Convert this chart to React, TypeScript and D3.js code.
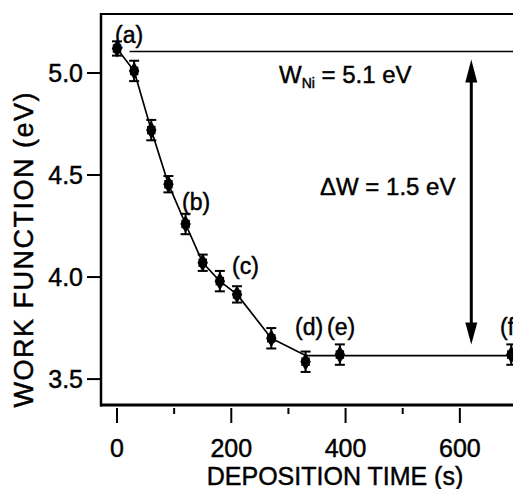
import React, { useEffect, useRef } from "react";
import * as d3 from "d3";

// measured points (deposition time in s, work function in eV)
const times = [0, 30, 60, 90, 120, 150, 180, 210, 270, 330, 390, 690];
const workFn = [5.12, 5.01, 4.72, 4.455, 4.26, 4.07, 3.98, 3.915, 3.7, 3.585, 3.62, 3.62];
const errs = [0.035, 0.05, 0.05, 0.04, 0.05, 0.04, 0.05, 0.04, 0.05, 0.05, 0.05, 0.05];
const labels = ["(a)", "", "", "", "(b)", "", "", "(c)", "", "(d)", "(e)", "(f)"];

// guide line through the points
const fitTimes = [0, 30, 60, 90, 120, 150, 180, 210, 270, 330, 700];
const fitValues = [5.12, 5.01, 4.72, 4.455, 4.26, 4.07, 3.98, 3.915, 3.7, 3.615, 3.615];

const xTicks = [0, 200, 400, 600];
const xMinorTicks = [100, 300, 500];
const yTicks = [3.5, 4.0, 4.5, 5.0];

const wNi = 5.1;
const wPlateau = 3.62;
const arrowTime = 620;

const FONT = "'Liberation Sans', Arial, sans-serif";

export default function App() {
  const ref = useRef<SVGSVGElement>(null);

  useEffect(() => {
    const svg = d3.select(ref.current);
    svg.selectAll("*").remove();

    const width = 513;
    const left = 101;
    const top = 14;
    const bottom = 405;

    const x = d3.scaleLinear().domain([-28, 700]).range([left, 517]);
    const y = d3.scaleLinear().domain([3.373, 5.289]).range([bottom, top]);

    const g = svg.append("g");

    // heavier text, like the scanned original
    const txt = (sel: any) =>
      sel.attr("font-family", FONT).attr("fill", "#000")
        .attr("stroke", "#000").attr("stroke-width", 0.45);

    // frame: top line, left axis, bottom axis
    g.append("line")
      .attr("x1", left).attr("x2", width)
      .attr("y1", top).attr("y2", top)
      .attr("stroke", "#000").attr("stroke-width", 2);
    g.append("line")
      .attr("x1", left).attr("x2", left)
      .attr("y1", top - 1).attr("y2", bottom + 1.5)
      .attr("stroke", "#000").attr("stroke-width", 2.5);
    g.append("line")
      .attr("x1", left - 1).attr("x2", width)
      .attr("y1", bottom).attr("y2", bottom)
      .attr("stroke", "#000").attr("stroke-width", 3);

    // y ticks
    yTicks.forEach((v) => {
      g.append("line")
        .attr("x1", left - 14).attr("x2", left)
        .attr("y1", y(v)).attr("y2", y(v))
        .attr("stroke", "#000").attr("stroke-width", 2);
      g.append("text")
        .attr("x", left - 18).attr("y", y(v))
        .attr("dy", "0.36em")
        .attr("text-anchor", "end")
        .attr("font-size", 25)
        .call(txt)
        .text(v.toFixed(1));
    });

    // x ticks
    xTicks.forEach((t) => {
      g.append("line")
        .attr("x1", x(t)).attr("x2", x(t))
        .attr("y1", bottom + 3).attr("y2", bottom + 18)
        .attr("stroke", "#000").attr("stroke-width", 2);
      g.append("text")
        .attr("x", x(t)).attr("y", 457)
        .attr("text-anchor", "middle")
        .attr("font-size", 25)
        .call(txt)
        .text(t);
    });
    xMinorTicks.forEach((t) => {
      g.append("line")
        .attr("x1", x(t)).attr("x2", x(t))
        .attr("y1", bottom + 3).attr("y2", bottom + 9)
        .attr("stroke", "#000").attr("stroke-width", 2);
    });

    // axis titles
    g.append("text")
      .attr("x", 335).attr("y", 485)
      .attr("text-anchor", "middle")
      .attr("font-size", 25)
      .call(txt)
      .text("DEPOSITION TIME (s)");
    g.append("text")
      .attr("transform", "translate(33,250) rotate(-90)")
      .attr("text-anchor", "middle")
      .attr("font-size", 27)
      .attr("textLength", 315)
      .attr("lengthAdjust", "spacing")
      .call(txt)
      .text("WORK FUNCTION (eV)");

    // W_Ni reference line
    g.append("line")
      .attr("x1", x(22)).attr("x2", width)
      .attr("y1", y(wNi) - 1).attr("y2", y(wNi) - 1)
      .attr("stroke", "#000").attr("stroke-width", 1.6);

    // guide line
    const line = d3
      .line<number>()
      .x((i) => x(fitTimes[i]))
      .y((i) => y(fitValues[i]));
    g.append("path")
      .attr("d", line(d3.range(fitTimes.length)))
      .attr("fill", "none")
      .attr("stroke", "#000")
      .attr("stroke-width", 1.7)
      .attr("stroke-linejoin", "round");

    // error bars + markers
    times.forEach((t, i) => {
      const cx = x(t);
      const y0 = y(workFn[i] + errs[i]);
      const y1 = y(workFn[i] - errs[i]);
      const pt = g.append("g");
      pt.append("line")
        .attr("x1", cx).attr("x2", cx).attr("y1", y0).attr("y2", y1)
        .attr("stroke", "#000").attr("stroke-width", 2);
      [y0, y1].forEach((yy) =>
        pt.append("line")
          .attr("x1", cx - 5).attr("x2", cx + 5).attr("y1", yy).attr("y2", yy)
          .attr("stroke", "#000").attr("stroke-width", 2)
      );
      pt.append("path")
        .attr("transform", `translate(${cx},${y(workFn[i])})`)
        .attr("d", d3.symbol(d3.symbolSquare, 72)())
        .attr("fill", "#000");
      pt.append("path")
        .attr("transform", `translate(${cx},${y(workFn[i])})`)
        .attr("d", d3.symbol(d3.symbolDiamond, 95)())
        .attr("fill", "#000");
    });

    // point labels
    const labelPos: Record<string, [number, number]> = {
      "(a)": [115, 43],
      "(b)": [182, 210],
      "(c)": [232, 274],
      "(d)": [295, 335],
      "(e)": [327, 335],
      "(f)": [500, 335],
    };
    labels.forEach((lab) => {
      if (!lab) return;
      const [lx, ly] = labelPos[lab];
      g.append("text")
        .attr("x", lx).attr("y", ly)
        .attr("font-size", 23)
        .call(txt)
        .text(lab);
    });

    // annotations
    const wText = g.append("text")
      .attr("x", 279).attr("y", 83)
      .attr("font-size", 24)
      .call(txt);
    wText.append("tspan").text("W");
    wText.append("tspan").attr("font-size", 14).attr("dy", 5).text("Ni");
    wText.append("tspan").attr("dy", -5).text(" = 5.1 eV");

    g.append("text")
      .attr("x", 320).attr("y", 195)
      .attr("font-size", 24)
      .call(txt)
      .text("\u0394W = 1.5 eV");

    // double-headed arrow
    const ax = x(arrowTime);
    const yTop = y(wNi) + 7;
    const yBot = y(wPlateau) - 10;
    g.append("line")
      .attr("x1", ax).attr("x2", ax)
      .attr("y1", yTop + 18).attr("y2", yBot - 18)
      .attr("stroke", "#000").attr("stroke-width", 3);
    g.append("path")
      .attr("d", `M${ax},${yTop} L${ax - 6},${yTop + 23} L${ax + 6},${yTop + 23} Z`)
      .attr("fill", "#000");
    g.append("path")
      .attr("d", `M${ax},${yBot} L${ax - 6},${yBot - 22} L${ax + 6},${yBot - 22} Z`)
      .attr("fill", "#000");
  }, []);

  return (
    <svg
      ref={ref}
      width={513}
      height={489}
      style={{ position: "absolute", left: 0, top: 0, background: "#fff" }}
    />
  );
}
